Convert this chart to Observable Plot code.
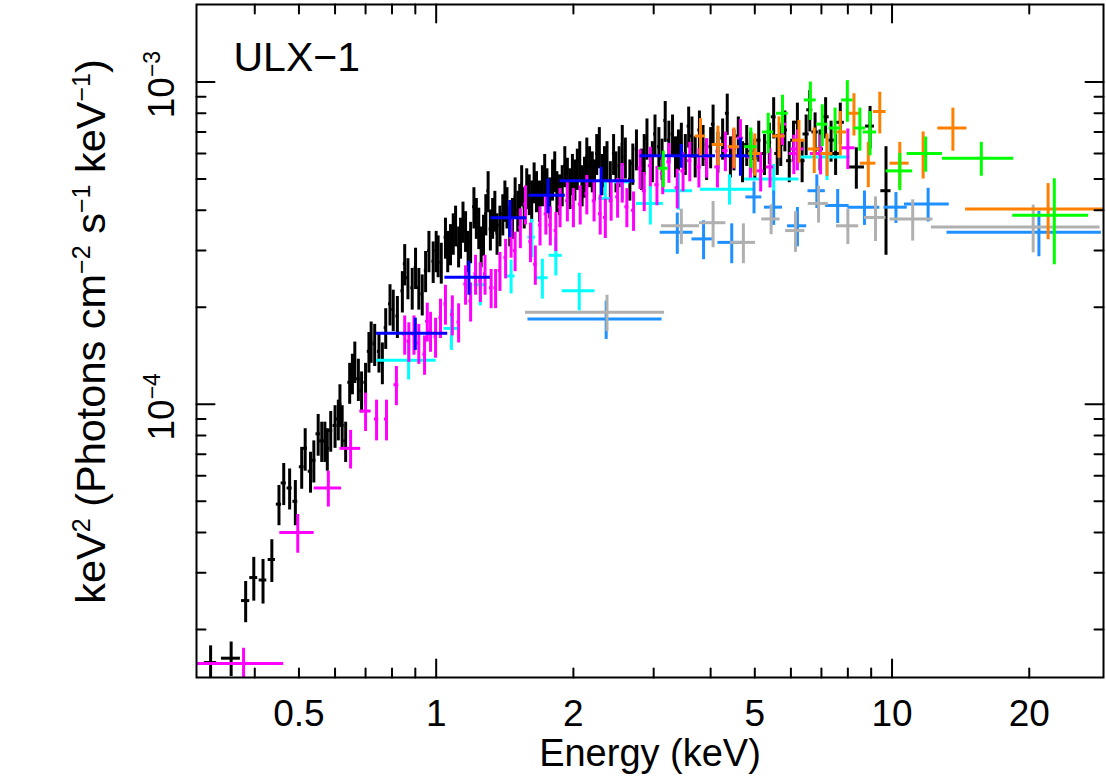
<!DOCTYPE html>
<html>
<head>
<meta charset="utf-8">
<script src="https://cdn.jsdelivr.net/npm/d3@7"></script>
<script src="https://cdn.jsdelivr.net/npm/@observablehq/plot@0.6"></script>
<style>
  html, body { margin: 0; padding: 0; background: #ffffff; }
  svg { display: block; }
</style>
</head>
<body>
<div id="chart"></div>
<script>
// ---------------- DATA ----------------
// Each row: [energy keV, half bin width keV, flux (x1e-4), flux error (x1e-4)]
const FLUX_UNIT = 1e-4;

const blackPts = [
[0.32,0.010,0.158,0.02],[0.355,0.017,0.163,0.02],[0.382,0.008,0.246,0.036],[0.398,0.008,0.29,0.045],
[0.417,0.008,0.285,0.045],[0.436,0.008,0.33,0.05],[0.452,0.006,0.49,0.07],[0.463,0.006,0.57,0.085],
[0.477,0.006,0.55,0.08],[0.491,0.006,0.50,0.08],[0.507,0.006,0.64,0.095],[0.516,0.006,0.73,0.11],
[0.53,0.006,0.62,0.09],[0.539,0.006,0.67,0.1],[0.551,0.006,0.81,0.12],[0.561,0.006,0.77,0.11],
[0.57,0.006,0.77,0.11],[0.577,0.006,0.73,0.11],[0.587,0.006,0.83,0.12],[0.60,0.006,0.86,0.13],
[0.61,0.006,0.90,0.13],[0.615,0.006,1.0,0.15],[0.622,0.006,0.86,0.13],[0.633,0.006,0.77,0.11],
[0.646,0.006,1.17,0.17],[0.655,0.006,1.25,0.18],[0.663,0.006,1.36,0.2],[0.675,0.006,1.20,0.18],
[0.686,0.006,1.10,0.16],[0.70,0.006,1.17,0.17],[0.712,0.006,1.46,0.21],[0.72,0.006,1.57,0.23],
[0.733,0.006,1.54,0.23],[0.749,0.006,1.46,0.21],[0.762,0.006,1.35,0.2],[0.775,0.006,1.73,0.25],
[0.792,0.006,2.05,0.3],[0.805,0.006,1.97,0.29],[0.822,0.006,1.88,0.28],[0.843,0.006,2.25,0.33],
[0.853,0.006,2.73,0.4],[0.867,0.006,2.47,0.36],[0.886,0.006,2.30,0.34],[0.901,0.006,2.66,0.39],
[0.916,0.006,2.3,0.34],[0.932,0.006,2.2,0.32],[0.948,0.006,2.6,0.38],[0.964,0.006,3.0,0.44],
[0.985,0.006,2.78,0.41],[1.0,0.007,3.0,0.44],[1.01,0.007,2.9,0.43],[1.026,0.007,2.76,0.4],
[1.048,0.007,3.3,0.48],[1.06,0.007,3.0,0.44],[1.075,0.007,3.15,0.46],[1.09,0.007,3.4,0.5],
[1.103,0.007,3.6,0.52],[1.12,0.007,3.1,0.45],[1.131,0.007,3.3,0.48],[1.145,0.007,3.7,0.54],
[1.16,0.007,3.46,0.5],[1.175,0.007,3.0,0.44],[1.19,0.007,3.2,0.47],[1.21,0.008,4.1,0.6],
[1.225,0.008,3.8,0.55],[1.24,0.008,3.54,0.52],[1.255,0.008,3.1,0.45],[1.27,0.008,3.37,0.49],
[1.285,0.008,3.9,0.57],[1.30,0.008,4.6,0.67],[1.315,0.008,3.5,0.51],[1.33,0.008,3.8,0.55],
[1.345,0.008,4.0,0.58],[1.36,0.008,3.4,0.5],[1.38,0.008,3.6,0.52],[1.40,0.008,3.9,0.57],
[1.415,0.008,4.3,0.63],[1.43,0.008,4.1,0.6],[1.45,0.008,3.6,0.52],[1.47,0.008,3.8,0.55],
[1.49,0.008,4.4,0.64],[1.51,0.008,4.0,0.58],[1.525,0.008,4.2,0.61],[1.54,0.009,4.8,0.7],
[1.56,0.009,4.1,0.6],[1.58,0.009,4.7,0.68],[1.60,0.009,4.5,0.65],[1.62,0.009,4.3,0.63],
[1.64,0.009,4.9,0.71],[1.66,0.009,4.6,0.67],[1.685,0.009,4.3,0.63],[1.71,0.009,4.8,0.7],
[1.73,0.009,5.2,0.76],[1.75,0.009,4.7,0.68],[1.775,0.01,4.4,0.64],[1.80,0.01,5.0,0.73],
[1.82,0.01,5.3,0.77],[1.84,0.01,4.6,0.67],[1.865,0.01,4.5,0.65],[1.89,0.01,4.8,0.7],
[1.915,0.01,5.5,0.8],[1.94,0.01,5.06,0.74],[1.965,0.01,4.7,0.68],[1.99,0.01,5.2,0.76],
[2.015,0.011,5.0,0.73],[2.04,0.011,5.4,0.79],[2.065,0.011,5.7,0.83],[2.09,0.011,4.8,0.7],
[2.115,0.011,5.1,0.74],[2.14,0.011,5.85,0.85],[2.17,0.012,5.5,0.8],[2.20,0.012,5.3,0.77],
[2.225,0.012,5.0,0.73],[2.25,0.012,6.0,0.87],[2.28,0.012,6.3,0.92],[2.31,0.013,5.2,0.76],
[2.34,0.013,5.5,0.8],[2.37,0.013,5.7,0.83],[2.41,0.013,4.94,0.72],[2.45,0.014,6.0,0.87],
[2.48,0.014,5.3,0.77],[2.52,0.015,5.5,0.8],[2.56,0.015,6.4,0.93],[2.60,0.016,5.85,0.85],
[2.66,0.017,5.0,0.73],[2.70,0.017,5.6,0.82],[2.75,0.018,6.2,0.9],[2.82,0.018,5.4,0.79],
[2.86,0.019,6.0,0.87],[2.90,0.02,6.7,0.98],[2.98,0.02,5.7,0.83],[3.02,0.02,6.9,1.0],
[3.08,0.021,6.3,0.92],[3.13,0.022,5.8,0.85],[3.18,0.022,7.6,1.1],[3.24,0.023,6.6,0.96],
[3.30,0.024,6.9,1.0],[3.35,0.025,5.9,0.86],[3.40,0.025,6.2,0.9],[3.45,0.026,6.5,0.95],
[3.52,0.027,6.0,0.87],[3.58,0.028,7.3,1.06],[3.64,0.029,6.8,0.99],[3.70,0.03,5.9,0.86],
[3.78,0.031,7.1,1.03],[3.85,0.032,6.4,0.93],[3.92,0.033,5.8,0.85],[4.0,0.034,6.3,0.92],
[4.05,0.035,7.4,1.08],[4.15,0.037,6.1,0.89],[4.25,0.039,6.7,0.98],[4.35,0.04,8.0,1.17],
[4.42,0.042,5.9,0.86],[4.5,0.044,6.2,0.9],[4.6,0.046,6.8,0.99],[4.7,0.048,5.7,0.83],
[4.8,0.05,6.4,0.93],[4.9,0.052,6.1,0.89],[5.0,0.055,5.8,0.85],[5.1,0.058,6.6,0.96],
[5.25,0.06,6.0,0.87],[5.38,0.063,6.5,0.95],[5.5,0.066,7.8,1.14],[5.6,0.07,6.0,0.87],
[5.7,0.072,6.4,0.93],[5.82,0.075,7.1,1.03],[5.95,0.08,5.7,0.83],[6.08,0.085,6.6,0.96],
[6.2,0.09,7.5,1.1],[6.35,0.095,5.7,0.83],[6.48,0.1,6.9,1.0],[6.6,0.1,8.2,1.2],
[6.78,0.11,7.0,1.02],[6.95,0.12,6.2,0.9],[7.15,0.13,7.8,1.14],[7.35,0.14,6.6,0.96],
[7.52,0.15,6.0,0.87],[7.7,0.16,7.5,1.1],[8.35,0.35,5.45,0.8],[8.95,0.2,7.3,1.1],
[9.7,0.25,4.6,1.7]
];

const magentaPts = [
[0.378,0.085,0.157,0.018],[0.497,0.043,0.40,0.055],[0.58,0.04,0.55,0.07],[0.649,0.034,0.73,0.1],
[0.70,0.02,0.953,0.13],[0.74,0.008,0.90,0.13],[0.778,0.008,0.90,0.13],[0.818,0.01,1.15,0.16],
[0.853,0.008,1.65,0.23],[0.871,0.008,1.57,0.22],[0.894,0.008,1.65,0.23],[0.916,0.008,1.55,0.22],
[0.943,0.008,1.43,0.2],[0.956,0.008,1.81,0.25],[0.972,0.008,1.69,0.24],[0.997,0.008,1.62,0.23],
[1.022,0.008,1.86,0.26],[1.048,0.008,2.05,0.29],[1.085,0.009,1.9,0.27],[1.12,0.009,1.8,0.25],
[1.16,0.01,2.36,0.33],[1.19,0.01,2.09,0.29],[1.22,0.01,2.54,0.36],[1.25,0.01,2.41,0.34],
[1.28,0.01,2.54,0.36],[1.32,0.011,2.3,0.32],[1.35,0.011,2.3,0.32],[1.38,0.011,2.6,0.36],
[1.42,0.012,2.85,0.4],[1.46,0.012,3.3,0.46],[1.49,0.012,3.0,0.42],[1.53,0.013,3.54,0.5],
[1.57,0.013,4.18,0.58],[1.61,0.013,3.2,0.45],[1.65,0.014,2.72,0.38],[1.69,0.014,3.6,0.5],
[1.74,0.015,3.9,0.55],[1.78,0.015,3.6,0.5],[1.83,0.016,3.46,0.48],[1.87,0.016,4.1,0.57],
[1.94,0.017,4.28,0.6],[2.0,0.018,4.1,0.57],[2.07,0.019,4.18,0.58],[2.14,0.02,4.5,0.63],
[2.22,0.02,4.28,0.6],[2.29,0.021,3.9,0.55],[2.35,0.022,3.8,0.53],[2.42,0.023,4.3,0.6],
[2.5,0.024,4.4,0.62],[2.56,0.025,4.9,0.69],[2.62,0.026,4.1,0.57],[2.71,0.027,4.0,0.56],
[2.8,0.028,5.4,0.76],[2.86,0.029,4.6,0.64],[2.95,0.03,5.5,0.77],[3.05,0.032,4.8,0.67],
[3.14,0.034,5.2,0.73],[3.24,0.035,5.65,0.8],[3.38,0.037,4.7,0.66],[3.48,0.038,5.3,0.74],
[3.6,0.04,5.7,0.8],[3.77,0.045,5.45,0.76],[3.92,0.05,5.85,0.82],[4.14,0.055,5.45,0.76],
[4.31,0.06,6.13,0.86],[4.49,0.065,6.25,0.88],[4.65,0.07,6.7,0.94],[4.89,0.08,5.85,0.82],
[5.15,0.09,5.3,0.74],[5.4,0.1,5.45,0.76],[5.75,0.12,7.4,1.04],[6.09,0.14,6.0,0.84],
[6.2,0.2,6.2,0.9],[6.97,0.35,6.0,0.85],[8.0,0.3,6.25,0.9]
];

const cyanPts = [
[0.87,0.13,1.37,0.18],[1.08,0.04,1.72,0.25],[1.25,0.04,2.35,0.33],[1.46,0.03,2.5,0.3],
[1.62,0.03,3.3,0.45],[1.71,0.05,2.47,0.35],[1.83,0.06,2.9,0.4],[2.06,0.17,2.25,0.3],
[2.35,0.08,4.35,0.55],[2.56,0.1,4.9,0.6],[2.95,0.2,4.2,0.6],[3.4,0.25,4.6,0.6],
[4.4,0.6,4.65,0.5],[5.5,0.75,5.0,0.55],[7.2,0.9,5.85,0.9]
];

const bluePts = [
[0.9,0.16,1.66,0.19],[1.18,0.135,2.48,0.3],[1.45,0.13,3.79,0.5],[1.76,0.16,4.45,0.55],
[2.3,0.43,4.94,0.5],[3.45,0.65,5.9,0.5],[4.65,0.45,5.9,0.8]
];

const dodgerPts = [
[2.36,0.77,1.84,0.25],[3.38,0.28,3.42,0.5],[3.86,0.22,3.26,0.45],[4.45,0.3,3.18,0.45],
[4.98,0.2,4.4,0.5],[5.5,0.25,4.09,0.5],[6.2,0.3,3.58,0.5],[6.84,0.3,4.6,0.55],
[7.6,0.45,4.14,0.5],[8.7,0.7,4.09,0.5],[10.2,0.6,4.09,0.45],[12.0,1.35,4.18,0.5],
[21.0,7.8,3.42,0.55]
];

const grayPts = [
[2.37,0.8,1.93,0.25],[3.45,0.33,3.58,0.45],[4.05,0.27,3.66,0.6],[4.72,0.3,3.18,0.45],
[5.43,0.25,3.76,0.4],[6.14,0.3,3.46,0.5],[6.9,0.35,4.2,0.55],[8.0,0.45,3.58,0.45],
[9.2,0.5,3.8,0.6],[11.1,1.2,3.76,0.55],[20.4,8.2,3.55,0.6]
];

const orangePts = [
[3.8,0.1,6.8,0.9],[4.15,0.12,6.4,0.9],[4.5,0.13,6.3,0.9],[5.0,0.15,6.0,0.9],
[5.65,0.18,6.8,1.0],[6.25,0.2,6.6,1.0],[6.75,0.2,6.2,1.0],[7.2,0.22,6.0,0.9],
[7.7,0.25,7.0,1.1],[8.25,0.27,8.0,1.2],[8.87,0.35,5.6,0.9],[9.4,0.3,8.1,1.2],
[10.4,0.5,5.6,0.9],[11.7,0.8,6.0,1.0],[13.6,1.0,7.2,1.1],[22.0,7.5,4.04,0.8]
];

const greenPts = [
[3.15,0.08,5.4,0.7],[4.9,0.15,6.3,0.9],[5.35,0.15,7.0,1.0],[5.75,0.17,8.0,1.1],
[6.62,0.2,8.8,1.2],[7.03,0.2,7.4,1.1],[7.5,0.22,7.2,1.1],[7.98,0.23,8.8,1.3],
[8.5,0.25,7.2,1.1],[8.95,0.3,7.0,1.1],[10.4,0.7,5.3,0.7],[11.85,1.05,6.0,0.75],
[15.7,2.8,5.8,0.7],[22.7,4.3,3.86,1.15]
];

// Axis ticks and labels
const xMajorTicks = [1, 10];
const xMinorTicks = [0.4, 0.5, 0.6, 0.7, 0.8, 0.9, 2, 3, 4, 5, 6, 7, 8, 9, 20];
const xTickLabels = [0.5, 1, 2, 5, 10, 20];
const yMajorTicks = [1e-4, 1e-3];
const yMinorTicks = [2e-5, 3e-5, 4e-5, 5e-5, 6e-5, 7e-5, 8e-5, 9e-5,
                     2e-4, 3e-4, 4e-4, 5e-4, 6e-4, 7e-4, 8e-4, 9e-4];
const yTickLabels = [1e-4, 1e-3];

const xDomain = [0.298, 29.1];
const yDomain = [1.42e-5, 1.74e-3];

const panelLabel = "ULX\u22121";
const xTitle = "Energy (keV)";

// Drawing order (first drawn = bottom)
const series = [
  {name: "black",   color: "#000000", rows: blackPts},
  {name: "cyan",    color: "#00ffff", rows: cyanPts},
  {name: "magenta", color: "#ff00ff", rows: magentaPts},
  {name: "blue",    color: "#0000ff", rows: bluePts},
  {name: "dodger",  color: "#1e90ff", rows: dodgerPts},
  {name: "gray",    color: "#b0b0b0", rows: grayPts},
  {name: "orange",  color: "#ff8000", rows: orangePts},
  {name: "green",   color: "#00ff00", rows: greenPts}
];

// ---------------- CHART ----------------
const W = 1106, H = 778;
const M = {top: 4, right: 3, bottom: 101, left: 196};
const FONT = "'Liberation Sans', Arial, Helvetica, sans-serif";

const toRecords = (s) => s.rows.map(([e, de, f, df]) => ({
  e, elo: e - de, ehi: e + de,
  f: f * FLUX_UNIT, flo: (f - df) * FLUX_UNIT, fhi: (f + df) * FLUX_UNIT
}));

const tickShape = {draw(ctx, l) { ctx.moveTo(0, 0); ctx.lineTo(0, -l); }};
function sideTicks(side, values, len) {
  const rot = {bottom: 0, top: 180, left: 90, right: -90}[side];
  const ch = (side === "bottom" || side === "top") ? {x: d => d} : {y: d => d};
  return Plot.vector(values, {
    ...ch, frameAnchor: side, length: len, rotate: rot, anchor: "start",
    shape: tickShape, stroke: "black", strokeWidth: 2
  });
}

const errMarks = series.flatMap(s => {
  const recs = toRecords(s);
  return [
    Plot.ruleY(recs, {y: "f", x1: "elo", x2: "ehi", stroke: s.color, strokeWidth: 3, clip: true}),
    Plot.ruleX(recs, {x: "e", y1: "flo", y2: "fhi", stroke: s.color, strokeWidth: 3, clip: true})
  ];
});

const chart = Plot.plot({
  width: W, height: H,
  marginTop: M.top, marginRight: M.right, marginBottom: M.bottom, marginLeft: M.left,
  x: {type: "log", domain: xDomain, axis: null},
  y: {type: "log", domain: yDomain, axis: null},
  style: {background: "#ffffff", fontFamily: FONT, color: "black"},
  marks: [
    ...errMarks,
    Plot.frame({stroke: "black", strokeWidth: 2}),
    ...["bottom", "top"].flatMap(s => [sideTicks(s, xMajorTicks, 18), sideTicks(s, xMinorTicks, 9)]),
    ...["left", "right"].flatMap(s => [sideTicks(s, yMajorTicks, 18), sideTicks(s, yMinorTicks, 9)]),
    Plot.text(xTickLabels, {x: d => d, text: d => String(d), frameAnchor: "bottom", dy: 48,
      lineAnchor: "bottom", fontSize: 37, fill: "black", fontFamily: FONT}),
    Plot.text([xTitle], {text: d => d, frameAnchor: "bottom", dy: 88, lineAnchor: "bottom",
      fontSize: 38, fill: "black", fontFamily: FONT}),
    Plot.text([panelLabel], {text: d => d, frameAnchor: "top-left", dx: 37, dy: 66,
      lineAnchor: "bottom", textAnchor: "start", fontSize: 41, fill: "black", fontFamily: FONT})
  ]
});

document.getElementById("chart").appendChild(chart);

// Rotated y tick labels with superscript exponents, placed with the plot's y scale
const svg = d3.select(chart);
const yScale = chart.scale("y");
yTickLabels.forEach(v => {
  const exp = Math.round(Math.log10(v));
  const t = svg.append("text")
    .attr("transform", `translate(${M.left - 22},${yScale.apply(v) + 3}) rotate(-90)`)
    .attr("text-anchor", "middle").attr("font-family", FONT).attr("font-size", 37)
    .attr("fill", "black");
  t.append("tspan").text("10");
  t.append("tspan").attr("font-size", 23).attr("dy", -14).text("\u2212" + String(-exp));
});

// Y axis title with superscripts
const yTitleParts = [["keV", 0], ["2", 1], [" (Photons cm", 0], ["\u22122", 1], [" s", 0],
                     ["\u22121", 1], [" keV", 0], ["\u22121", 1], [")", 0]];
const yt = svg.append("text")
  .attr("transform", `translate(${M.left - 91},${(M.top + H - M.bottom) / 2 - 9}) rotate(-90)`)
  .attr("text-anchor", "middle").attr("font-family", FONT).attr("font-size", 41.5)
  .attr("fill", "black").style("white-space", "pre");
let prevSup = false;
yTitleParts.forEach(([txt, sup]) => {
  const ts = yt.append("tspan").text(txt);
  if (sup) { ts.attr("font-size", 25); if (!prevSup) ts.attr("dy", -15); }
  else if (prevSup) ts.attr("dy", 15);
  prevSup = !!sup;
});
</script>
</body>
</html>
